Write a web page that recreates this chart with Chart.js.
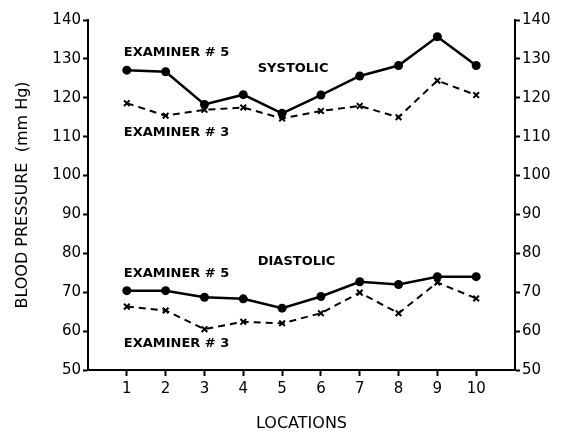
<!DOCTYPE html>
<html>
<head>
<meta charset="utf-8">
<script src="https://cdn.jsdelivr.net/npm/chart.js@4"></script>
<style>
  html, body { margin: 0; padding: 0; background: #fff; }
  #wrap { width: 562px; height: 437px; }
</style>
</head>
<body>
<div id="wrap"><canvas id="bp" width="562" height="437"></canvas></div>
<script>
// values
const locations = [1, 2, 3, 4, 5, 6, 7, 8, 9, 10];
const systolicEx5 = [127.1, 126.7, 118.3, 120.8, 116, 120.7, 125.6, 128.3, 135.7, 128.3];
const systolicEx3 = [118.6, 115.4, 116.9, 117.5, 114.7, 116.6, 117.9, 115, 124.4, 120.7];
const diastolicEx5 = [70.4, 70.4, 68.7, 68.3, 65.9, 68.9, 72.7, 72.0, 74.0, 74.0];
const diastolicEx3 = [66.3, 65.3, 60.5, 62.4, 62.0, 64.6, 69.9, 64.6, 72.5, 68.4];
const yTicks = [50, 60, 70, 80, 90, 100, 110, 120, 130, 140];

// text labels inside the plot, in data units [x, y, text]
const notes = [
  [1, 131.5, 'EXAMINER # 5'],
  [4.45, 127.6, 'SYSTOLIC'],
  [1, 111, 'EXAMINER # 3'],
  [4.45, 77.8, 'DIASTOLIC'],
  [1, 74.8, 'EXAMINER # 5'],
  [1, 56.8, 'EXAMINER # 3']
];

const pts = arr => arr.map((v, i) => ({ x: locations[i], y: v }));

const solid = data => ({
  data: pts(data),
  borderColor: '#000',
  backgroundColor: '#000',
  borderWidth: 2.5,
  pointStyle: 'circle',
  pointRadius: 4.5,
  pointBorderWidth: 0,
  tension: 0
});
const dashed = data => ({
  data: pts(data),
  borderColor: '#000',
  backgroundColor: '#000',
  borderWidth: 2,
  borderDash: [7, 5],
  pointStyle: 'crossRot',
  pointRadius: 4,
  pointBorderWidth: 2,
  tension: 0
});

const notesPlugin = {
  id: 'notes',
  afterDatasetsDraw(chart) {
    const { ctx, scales } = chart;
    ctx.save();
    ctx.fillStyle = '#000';
    ctx.font = 'bold 13px "DejaVu Sans"';
    ctx.textBaseline = 'middle';
    ctx.textAlign = 'left';
    notes.forEach(([x, y, t]) => {
      ctx.fillText(t, scales.x.getPixelForValue(x) - 3, scales.y.getPixelForValue(y));
    });
    ctx.restore();
  }
};

const tickFont = { family: 'DejaVu Sans', size: 15 };

new Chart(document.getElementById('bp'), {
  type: 'line',
  data: {
    datasets: [
      solid(systolicEx5),
      dashed(systolicEx3),
      solid(diastolicEx5),
      dashed(diastolicEx3)
    ]
  },
  options: {
    responsive: false,
    animation: false,
    layout: { padding: { top: 20, left: 0, right: 0, bottom: 0 } },
    plugins: { legend: { display: false }, tooltip: { enabled: false } },
    scales: {
      x: {
        type: 'linear',
        min: 0,
        max: 11,
        afterBuildTicks: s => { s.ticks = locations.map(v => ({ value: v })); },
        afterFit: s => { s.height = 67; },
        grid: { drawOnChartArea: false, color: '#000', tickLength: 6, tickWidth: 2 },
        border: { color: '#000', width: 2 },
        ticks: { color: '#000', font: tickFont, padding: 4 },
        title: { display: true, text: 'LOCATIONS', color: '#000', font: { family: 'DejaVu Sans', size: 16 }, padding: { top: 8 } }
      },
      y: {
        position: 'left',
        min: 50,
        max: 140,
        afterBuildTicks: s => { s.ticks = yTicks.map(v => ({ value: v })); },
        afterFit: s => { s.width = 88; },
        grid: { drawOnChartArea: false, color: '#000', tickLength: 5, tickWidth: 2 },
        border: { color: '#000', width: 2 },
        ticks: { color: '#000', font: tickFont, padding: 2 },
        title: { display: true, text: 'BLOOD PRESSURE  (mm Hg)', color: '#000', font: { family: 'DejaVu Sans', size: 16 }, padding: { top: 13, bottom: 0 } }
      },
      y2: {
        position: 'right',
        min: 50,
        max: 140,
        afterBuildTicks: s => { s.ticks = yTicks.map(v => ({ value: v })); },
        afterFit: s => { s.width = 47; },
        grid: { drawOnChartArea: false, color: '#000', tickLength: 5, tickWidth: 2 },
        border: { color: '#000', width: 2 },
        ticks: { color: '#000', font: tickFont, padding: 2 }
      }
    }
  },
  plugins: [notesPlugin]
});
</script>
</body>
</html>
